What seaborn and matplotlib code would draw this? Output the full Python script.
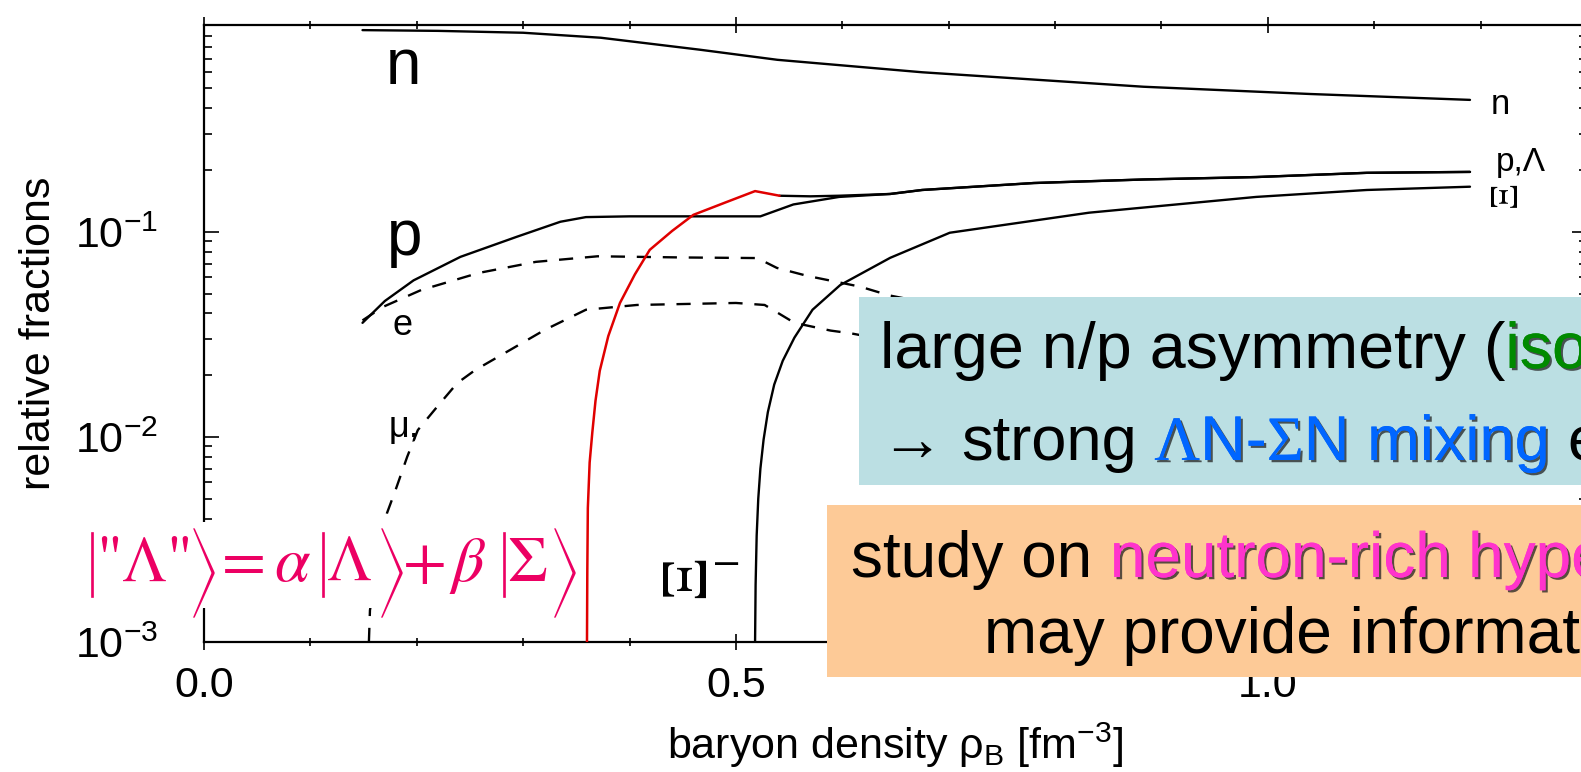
import numpy as np
import pandas as pd
import matplotlib
matplotlib.use("Agg")
import matplotlib.pyplot as plt
import seaborn as sns
from matplotlib.patches import Rectangle
import matplotlib.patheffects as pe
from matplotlib.ticker import MultipleLocator, LogLocator, NullFormatter

# ---------------- data ----------------
n_x = [0.149, 0.22, 0.30, 0.373, 0.466, 0.539, 0.675, 0.883, 1.04, 1.19]
n_y = [0.963, 0.955, 0.935, 0.884, 0.773, 0.69, 0.60, 0.51, 0.47, 0.44]

p_x = [0.149, 0.17, 0.197, 0.241, 0.294, 0.335, 0.359, 0.40, 0.46, 0.523,
       0.554, 0.597, 0.645, 0.675, 0.78, 0.883, 0.989, 1.093, 1.19]
p_y = [0.036, 0.046, 0.058, 0.0755, 0.0946, 0.112, 0.118, 0.119, 0.119, 0.119,
       0.136, 0.148, 0.153, 0.160, 0.173, 0.180, 0.185, 0.194, 0.196]

lam_x = [0.360, 0.3603, 0.3608, 0.3625, 0.365, 0.368, 0.372, 0.380, 0.391, 0.405,
         0.419, 0.44, 0.46, 0.49, 0.518, 0.541, 0.57, 0.597, 0.645, 0.675,
         0.78, 0.883, 0.989, 1.093, 1.19]
lam_y = [0.001, 0.0022, 0.0045, 0.0075, 0.0105, 0.015, 0.021, 0.031, 0.045, 0.062,
         0.0817, 0.101, 0.121, 0.139, 0.158, 0.150, 0.149, 0.150, 0.153, 0.160,
         0.173, 0.180, 0.185, 0.194, 0.196]
lam_red_end = 0.541   # part of the Lambda curve highlighted in red

xi_x = [0.518, 0.5185, 0.5195, 0.521, 0.523, 0.526, 0.530, 0.536, 0.544, 0.555,
        0.572, 0.598, 0.645, 0.701, 0.832, 0.989, 1.093, 1.19]
xi_y = [0.001, 0.0019, 0.0033, 0.0050, 0.0070, 0.0097, 0.0132, 0.0180, 0.0235, 0.0305,
        0.0417, 0.055, 0.0747, 0.099, 0.124, 0.148, 0.160, 0.166]

e_x = [0.149, 0.168, 0.204, 0.258, 0.312, 0.37, 0.45, 0.52, 0.5385, 0.567,
       0.617, 0.644, 0.70, 0.80, 0.90]
e_y = [0.037, 0.043, 0.052, 0.063, 0.0714, 0.076, 0.075, 0.0745, 0.0667, 0.061,
       0.054, 0.049, 0.043, 0.036, 0.031]

mu_x = [0.155, 0.156, 0.172, 0.18, 0.191, 0.201, 0.219, 0.238, 0.255, 0.288,
        0.32, 0.359, 0.407, 0.50, 0.527, 0.555, 0.589, 0.608, 0.70, 0.80]
mu_y = [0.001, 0.00143, 0.00425, 0.0055, 0.008, 0.0108, 0.014, 0.0183, 0.0212, 0.0266,
        0.0332, 0.0417, 0.044, 0.045, 0.044, 0.036, 0.033, 0.032, 0.026, 0.021]

x_ticks = [0.0, 0.5, 1.0]
x_tick_labels = ["0.0", "0.5", "1.0"]
y_ticks = [1e-3, 1e-2, 1e-1]
y_tick_labels = [r"$10^{-3}$", r"$10^{-2}$", r"$10^{-1}$"]

# ---------------- style ----------------
sns.set_style("ticks")
plt.rcParams["font.family"] = ["Liberation Sans", "DejaVu Sans"]
plt.rcParams["mathtext.fontset"] = "custom"
plt.rcParams["mathtext.rm"] = "Liberation Sans"
plt.rcParams["mathtext.it"] = "Liberation Sans:italic"
plt.rcParams["mathtext.bf"] = "Liberation Sans:bold"
for k in ["text.color", "axes.labelcolor", "xtick.color", "ytick.color", "axes.edgecolor"]:
    plt.rcParams[k] = "black"

W, H = 1581, 772
fig = plt.figure(figsize=(W / 100, H / 100), dpi=100)
fig.patch.set_facecolor("white")
ax = fig.add_axes([204 / W, (H - 642) / H, 1383 / W, 617 / H])


def fx(px):
    return px / W


def fy(py):
    return 1 - py / H


LW = 1.7
sns.lineplot(x=n_x, y=n_y, ax=ax, color="black", lw=LW, sort=False, estimator=None)
sns.lineplot(x=p_x, y=p_y, ax=ax, color="black", lw=LW, sort=False, estimator=None)
lam_df = pd.DataFrame({"x": lam_x, "y": lam_y})
sns.lineplot(data=lam_df[lam_df.x >= lam_red_end], x="x", y="y", ax=ax, color="black",
             lw=LW, sort=False, estimator=None)
sns.lineplot(data=lam_df[lam_df.x <= lam_red_end], x="x", y="y", ax=ax, color="#E00000",
             lw=LW + 0.1, sort=False, estimator=None, zorder=4)
sns.lineplot(x=xi_x, y=xi_y, ax=ax, color="black", lw=LW, sort=False, estimator=None)
sns.lineplot(x=e_x, y=e_y, ax=ax, color="black", lw=LW, sort=False, estimator=None)
ax.lines[-1].set_dashes((6, 5))
sns.lineplot(x=mu_x, y=mu_y, ax=ax, color="black", lw=LW, sort=False, estimator=None)
ax.lines[-1].set_dashes((6, 5))

ax.set_xlim(0, 1.3)
ax.set_yscale("log")
ax.set_ylim(1e-3, 1.02)

ax.set_xticks(x_ticks, labels=x_tick_labels)
ax.xaxis.set_minor_locator(MultipleLocator(0.1))
ax.set_yticks(y_ticks, labels=y_tick_labels)
ax.yaxis.set_minor_locator(LogLocator(base=10, subs=np.arange(2, 10)))
ax.yaxis.set_minor_formatter(NullFormatter())

ax.tick_params(axis="both", which="both", top=True, right=True, color="black", width=1.2)
ax.tick_params(axis="y", which="both", direction="in")
ax.tick_params(axis="x", which="both", direction="inout")
ax.tick_params(axis="both", which="major", length=11, labelsize=31, labelcolor="black")
ax.tick_params(axis="both", which="minor", length=6)
ax.tick_params(axis="y", which="major", pad=33)
ax.tick_params(axis="x", which="major", pad=11.5)
for s in ax.spines.values():
    s.set_linewidth(1.6)
    s.set_color("black")

ax.set_ylabel("relative fractions", fontsize=31, color="black")
ax.yaxis.set_label_coords(-0.105, 0.5)
ax.set_xlabel("baryon density ρ$_\\mathrm{B}$ [fm$^{-3}$]", fontsize=31, color="black")
ax.xaxis.set_label_coords(0.5, -0.128)

# curve labels (inside the plot)
tf = fig.transFigure
ax.text(fx(404), fy(67), "n", transform=tf, fontsize=46, ha="center", va="center")
ax.text(fx(405), fy(238), "p", transform=tf, fontsize=46, ha="center", va="center")
ax.text(fx(403), fy(326), "e", transform=tf, fontsize=26, ha="center", va="center")
ax.text(fx(404), fy(427), "μ,", transform=tf, fontsize=26, ha="center", va="center")
ax.text(fx(1500), fy(104), "n", transform=tf, fontsize=25, ha="center", va="center")
ax.text(fx(1521), fy(163), "p,Λ", transform=tf, fontsize=24, ha="center", va="center")
ax.text(fx(1507), fy(195), "Ξ", transform=tf, fontsize=27, ha="center", va="center",
        rotation=90, family="STIXGeneral")
ax.text(fx(690), fy(577), "Ξ", transform=tf, fontsize=46, ha="center", va="center",
        rotation=90, family="STIXGeneral")
ax.text(fx(727), fy(563), "–", transform=tf, fontsize=30, ha="center", va="center")

# ---------------- slide overlays ----------------
def rect(x0, y0, x1, y1, color):
    fig.add_artist(Rectangle((fx(x0), fy(y1)), (x1 - x0) / W, (y1 - y0) / H,
                             transform=fig.transFigure, facecolor=color,
                             edgecolor="none", zorder=2))


rect(77, 522, 570, 608, "white")
rect(859, 297, 1600, 485, "#BBDFE3")
rect(827, 505, 1600, 677, "#FDCA97")

# ket formula |"Λ"> = α|Λ> + β|Σ>
PINK = "#EC0063"
BASE, DELIM_BASE = 581, 598
thin = [pe.Stroke(linewidth=2.4, foreground="white")]
formula_parts = [(82, "|", 72, "normal", DELIM_BASE), (96, '"Λ"', 46, "normal", BASE),
                 (184, "⟩", 72, "normal", DELIM_BASE), (222, "=", 46, "normal", BASE),
                 (274, "α", 46, "italic", BASE), (313, "|", 72, "normal", DELIM_BASE),
                 (327, "Λ", 46, "normal", BASE), (372, "⟩", 72, "normal", DELIM_BASE),
                 (403, "+", 46, "normal", BASE), (452, "β", 46, "italic", BASE),
                 (494, "|", 72, "normal", DELIM_BASE), (507, "Σ", 46, "normal", BASE),
                 (545, "⟩", 72, "normal", DELIM_BASE)]
for xp, s, size, style, base in formula_parts:
    t = fig.text(fx(xp), fy(base), s, ha="left", va="baseline", fontsize=size, color=PINK,
                 family="STIXGeneral", fontstyle=style, zorder=4)
    if s in ("|", "⟩"):
        t.set_path_effects(thin)

renderer = fig.canvas.get_renderer()
shadow = [pe.withSimplePatchShadow(offset=(1.6, -1.6), shadow_rgbFace="#222222", alpha=0.75),
          pe.Normal()]


def text_width(s, size, fam):
    t = fig.text(0, 0, s, fontsize=size, family=fam)
    w = t.get_window_extent(renderer).width
    t.remove()
    return w


def draw_runs(x0, y0, runs, size):
    x = x0
    for s, color, fam, shad in runs:
        if s == " ":
            x += text_width("a a", size, fam) - text_width("aa", size, fam)
            continue
        t = fig.text(fx(x), fy(y0), s, fontsize=size, color=color, family=fam,
                     ha="left", va="baseline", zorder=4)
        if shad:
            t.set_path_effects(shadow)
        x += t.get_window_extent(renderer).width


SANS, SERIF = "Liberation Sans", "Liberation Serif"
BLUE, GREEN, MAG = "#0066FF", "#008A00", "#FF33CC"
draw_runs(880, 368, [("large n/p asymmetry (", "black", SANS, False),
                     ("isospin", GREEN, SANS, True), (")", "black", SANS, False)], 46.5)
draw_runs(880, 460, [("→", "black", SERIF, False), (" ", None, SANS, False),
                     ("strong", "black", SANS, False), (" ", None, SANS, False),
                     ("Λ", BLUE, SERIF, True), ("N-", BLUE, SANS, True),
                     ("Σ", BLUE, SERIF, True), ("N", BLUE, SANS, True), (" ", None, SANS, False),
                     ("mixing", BLUE, SANS, True), (" ", None, SANS, False),
                     ("effect", "black", SANS, False)], 45.5)
draw_runs(851, 577, [("study on", "black", SANS, False), (" ", None, SANS, False),
                     ("neutron-rich", MAG, SANS, True), (" ", None, SANS, False),
                     ("hypernuclei", MAG, SANS, True)], 46)
draw_runs(984, 653, [("may provide information", "black", SANS, False)], 46)

fig.savefig("out.png", dpi=100)
